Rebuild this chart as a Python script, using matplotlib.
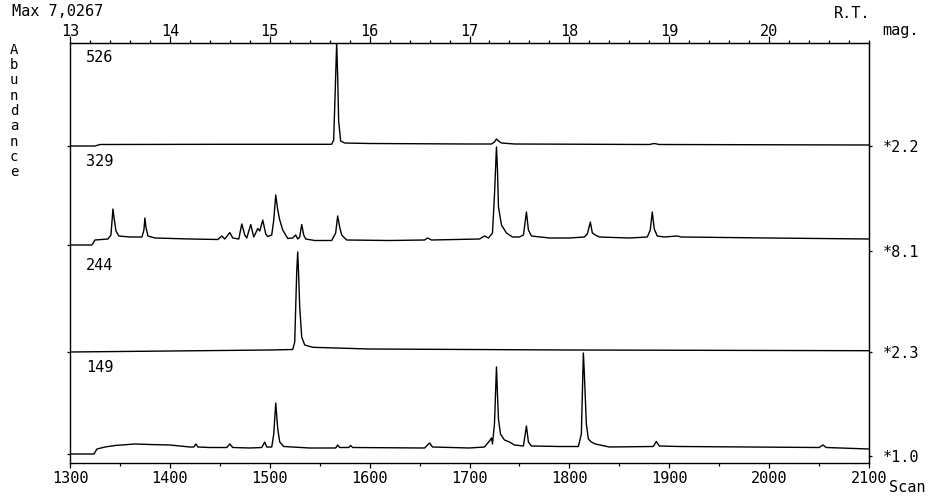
import matplotlib
matplotlib.use('Agg')
import matplotlib.pyplot as plt
from matplotlib.ticker import MultipleLocator

plt.rcParams['font.family'] = ['DejaVu Sans Mono', 'DejaVu Sans']
plt.rcParams['font.size'] = 11

# --- extracted ion chromatograms (scan number, relative abundance) ---
scan_526 = [1300, 1325, 1330, 1450, 1562, 1564, 1566, 1567, 1568, 1569, 1571, 1575, 1600,
            1700, 1722, 1725, 1727, 1729, 1732, 1745, 1880, 1885, 1890, 2100]
abund_526 = [0, 0, 1.5, 1.7, 1.7, 6, 70, 103, 70, 25, 5, 3, 2.5,
             2, 2, 4, 7, 5, 3, 2, 1.5, 2.5, 1.5, 1]

scan_329 = [1300, 1322, 1325, 1338, 1341, 1343, 1344, 1346, 1349, 1360, 1372, 1374, 1375,
            1376, 1378, 1385, 1420, 1448, 1452, 1455, 1460, 1463, 1469, 1472, 1475, 1477,
            1481, 1484, 1488, 1490, 1493, 1496, 1498, 1502, 1504, 1506, 1508, 1510, 1513,
            1518, 1523, 1526, 1528, 1530, 1532, 1534, 1536, 1545, 1562, 1566, 1568, 1570,
            1572, 1577, 1620, 1655, 1658, 1662, 1710, 1715, 1719, 1723, 1725, 1727, 1728,
            1729, 1732, 1737, 1743, 1750, 1754, 1757, 1759, 1762, 1780, 1800, 1815, 1818,
            1821, 1823, 1826, 1830, 1860, 1878, 1881, 1883, 1885, 1888, 1895, 1908, 1912,
            2000, 2100]
abund_329 = [0, 0, 5, 6, 10, 36, 28, 14, 9, 8, 8, 15, 27,
             18, 9, 7, 6, 5.5, 9, 6, 12.5, 7, 6, 21, 10, 7,
             20.5, 8, 16.5, 14, 25, 11, 8.5, 10, 25, 50, 35, 25, 15,
             6.5, 7, 10, 6, 8, 20.5, 10, 6, 4.5, 4.5, 12, 29, 18,
             10, 5, 4.5, 5, 7, 5, 6, 9, 7, 12, 50, 98, 75,
             38, 20, 12, 8, 8, 10, 33, 15, 9, 7, 7, 8, 11,
             23, 12, 10, 8, 7, 8, 15, 33, 16, 9, 8, 9, 8,
             7, 6]

scan_244 = [1300, 1400, 1500, 1523, 1525, 1527, 1528, 1529, 1530, 1532, 1535, 1543,
            1600, 1700, 1800, 2100]
abund_244 = [0, 1, 2, 2.5, 10, 80, 100, 75, 45, 15, 7, 4.7,
             3, 2.5, 2, 1.3]

scan_149 = [1300, 1324, 1327, 1335, 1345, 1365, 1380, 1400, 1420, 1424, 1426, 1428, 1440,
            1457, 1460, 1463, 1480, 1492, 1495, 1497, 1502, 1504, 1506, 1508, 1510, 1514,
            1540, 1566, 1568, 1570, 1579, 1581, 1583, 1655, 1660, 1663, 1700, 1715, 1720,
            1722, 1723, 1725, 1727, 1728, 1729, 1731, 1735, 1740, 1745, 1754, 1757, 1759,
            1762, 1790, 1809, 1812, 1814, 1815, 1817, 1819, 1822, 1826, 1840, 1884, 1887,
            1890, 1910, 2050, 2054, 2057, 2100]
abund_149 = [0, 0, 5, 7, 8.5, 10, 9.5, 9, 7, 7, 10, 7, 6.5,
             6.5, 10, 6.5, 6, 6.5, 12, 7, 7, 20, 51, 25, 12, 7.5,
             6, 6, 9, 6.5, 6.5, 8.5, 6.5, 6, 11, 7, 6, 7, 13,
             16, 10, 30, 87, 60, 35, 20, 14, 12, 9, 8, 28, 12,
             8, 7.5, 7.5, 20, 101, 80, 30, 15, 12, 10, 7, 7.5, 12.5,
             8, 7.5, 6.5, 9, 6.5, 5]

ions = ['526', '329', '244', '149']
mags = ['*2.2', '*8.1', '*2.3', '*1.0']
scan_ticks = [1300, 1400, 1500, 1600, 1700, 1800, 1900, 2000, 2100]
rt_ticks = [13, 14, 15, 16, 17, 18, 19, 20]

traces = [(scan_526, abund_526), (scan_329, abund_329),
          (scan_244, abund_244), (scan_149, abund_149)]

# layout: vertical offset of each trace and its label/mag positions
offsets = [317, 218, 111, 9]
label_y = [405, 301, 198, 96]
mag_y = [317, 212, 111, 7]

W, H = 941, 497
fig = plt.figure(figsize=(W / 100, H / 100), dpi=100)
ax = fig.add_axes([70 / W, 34 / H, 799 / W, 420 / H])

for (sc, ab), off in zip(traces, offsets):
    ax.plot(sc, [a + off for a in ab], color='black', lw=1.0)

for name, y in zip(ions, label_y):
    ax.text(1316, y, name, ha='left', va='center', fontsize=11)

ax.set_xlim(1300, 2100)
ax.set_ylim(0, 420)
for sp in ax.spines.values():
    sp.set_linewidth(1.0)

ax.set_xticks(scan_ticks)
ax.xaxis.set_minor_locator(MultipleLocator(50))
ax.tick_params(axis='x', which='major', direction='out', length=3.6, width=0.9, pad=2)
ax.tick_params(axis='x', which='minor', direction='out', length=2.2, width=0.9)
ax.set_yticks(offsets)
ax.set_yticklabels([])
ax.tick_params(axis='y', direction='out', length=2.5, width=0.9)

# retention time axis on top
secx = ax.secondary_xaxis('top', functions=(lambda s: 13 + (s - 1300) / 100,
                                            lambda r: 1300 + (r - 13) * 100))
secx.set_xticks(rt_ticks)
secx.xaxis.set_minor_locator(MultipleLocator(0.2))
secx.tick_params(which='major', direction='out', length=5, width=0.9, pad=-2)
secx.tick_params(which='minor', direction='out', length=2.2, width=0.9)

# magnification factors on the right
secy = ax.secondary_yaxis('right')
secy.set_yticks(mag_y, labels=mags)
secy.tick_params(direction='out', length=2, width=0.9, pad=8)

def px(x, y):
    return x / W, 1 - y / H

fig.text(*px(12, 12), 'Max 7,0267', ha='left', va='center', fontsize=11)
fig.text(*px(852, 13), 'R.T.', ha='center', va='center', fontsize=11)
fig.text(*px(882, 30), 'mag.', ha='left', va='center', fontsize=11)
fig.text(*px(889, 487), 'Scan', ha='left', va='center', fontsize=11)
for i, ch in enumerate('Abundance'):
    fig.text(*px(14, 50 + i * 15.25), ch, ha='center', va='center', fontsize=10)

fig.savefig('out.png', dpi=100)
